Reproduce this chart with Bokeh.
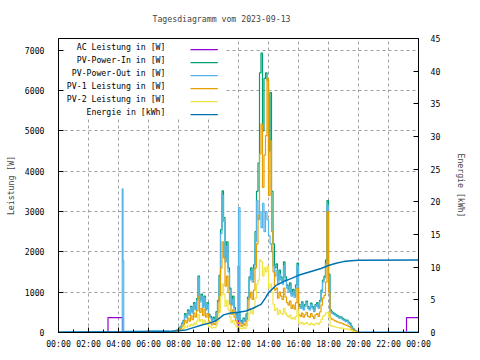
from bokeh.plotting import figure
from bokeh.models import Range1d, LinearAxis, FixedTicker, Label, BoxAnnotation
from bokeh.embed import file_html
from bokeh.resources import INLINE

FONT = "DejaVu Sans Mono"
FS = "8.2px"

title_text = "Tagesdiagramm vom 2023-09-13"
series_names = ["AC Leistung in [W]", "PV-Power-In in [W]", "PV-Power-Out in [W]",
                "PV-1 Leistung in [W]", "PV-2 Leistung in [W]", "Energie in [kWh]"]
series_colors = ["#9400d3", "#009e73", "#56b4e9", "#e69f00", "#f0e442", "#0072b2"]

x_ticks = [0, 2, 4, 6, 8, 10, 12, 14, 16, 18, 20, 22, 24]
x_minor = [1, 3, 5, 7, 9, 11, 13, 15, 17, 19, 21, 23]
x_tick_labels = ["00:00", "02:00", "04:00", "06:00", "08:00", "10:00", "12:00",
                 "14:00", "16:00", "18:00", "20:00", "22:00", "00:00"]
w_ticks = [0, 1000, 2000, 3000, 4000, 5000, 6000, 7000]
e_ticks = [0, 5, 10, 15, 20, 25, 30, 35, 40, 45]

# time of day in hours
day_t = [7.5, 7.6, 7.7, 7.8, 7.9,
         8.0, 8.1, 8.2, 8.3, 8.4, 8.5, 8.6, 8.7, 8.8, 8.9,
         9.0, 9.1, 9.2, 9.3, 9.4, 9.5, 9.6, 9.7, 9.8, 9.9,
         10.0, 10.1, 10.2, 10.3, 10.4, 10.5, 10.6, 10.7, 10.8, 10.9,
         11.0, 11.1, 11.2, 11.3, 11.4, 11.5, 11.6, 11.7, 11.8, 11.9,
         12.0, 12.1, 12.2, 12.3, 12.4, 12.5, 12.6, 12.7, 12.8, 12.9,
         13.0, 13.1, 13.2, 13.3, 13.4, 13.5, 13.6, 13.7, 13.8, 13.9,
         14.0, 14.1, 14.2, 14.3, 14.4, 14.5, 14.6, 14.7, 14.8, 14.9,
         15.0, 15.1, 15.2, 15.3, 15.4, 15.5, 15.6, 15.7, 15.8, 15.9,
         16.0, 16.1, 16.2, 16.3, 16.4, 16.5, 16.6, 16.7, 16.8, 16.9,
         17.0, 17.1, 17.2, 17.3, 17.4, 17.5, 17.6, 17.7, 17.8, 17.9,
         18.0, 18.1, 18.2, 18.3, 18.4, 18.5, 18.6, 18.7, 18.8, 18.9,
         19.0, 19.1, 19.2, 19.3, 19.4, 19.5, 19.6, 19.7, 19.8, 19.9,
         20.0]

pv_out_day = [20, 25, 35, 50, 60,
              90, 140, 210, 280, 420, 360, 520, 430, 620, 480,
              700, 560, 800, 1370, 760, 900, 620, 860, 560, 700,
              420, 360, 290, 340, 300, 480, 760, 1350, 2450, 3400,
              2750, 1750, 2150, 1500, 1050, 680, 820, 560, 420, 320,
              3100, 260, 220, 320, 270, 420, 820, 1300, 1520, 1250,
              1580, 2250, 3270, 2800, 3000, 2600, 3200, 2500, 3000, 2800,
              2400, 2200, 2000, 1650, 1400, 1550, 1200, 1450, 1300, 1200,
              1650, 1300, 1100, 1000, 1150, 900, 1000, 870, 1100, 1650,
              660, 600, 720, 560, 650, 740, 600, 560, 690, 600,
              520, 650, 700, 600, 760, 1000, 1250, 1350, 1700, 3150,
              1400, 520, 480, 450, 430, 400, 380, 350, 360, 320,
              300, 270, 280, 230, 200, 130, 90, 50, 30, 15,
              10]

pv_in_day = [25, 30, 40, 55, 70,
             100, 150, 230, 300, 470, 390, 560, 460, 650, 520,
             740, 600, 840, 1400, 800, 950, 660, 900, 600, 740,
             450, 400, 320, 380, 330, 520, 800, 1420, 2550, 3510,
             2850, 1850, 2250, 1600, 1100, 720, 900, 620, 480, 360,
             500, 300, 250, 360, 300, 460, 880, 1380, 1600, 1320,
             1680, 2500, 3500, 4200, 6440, 6930, 5000, 6300, 6440, 6260,
             4500, 5950, 3500, 2200, 1600, 1700, 1300, 1550, 1380, 1280,
             1750, 1380, 1180, 1080, 1230, 960, 1070, 930, 1180, 1720,
             700, 640, 760, 600, 690, 780, 640, 600, 730, 640,
             560, 690, 740, 640, 800, 1050, 1300, 1400, 1800, 3270,
             1450, 560, 510, 480, 460, 430, 410, 380, 390, 350,
             330, 300, 310, 260, 230, 150, 100, 60, 35, 20,
             10]

pv1_day = [12, 15, 20, 30, 35,
           55, 90, 140, 190, 300, 240, 360, 280, 420, 320,
           480, 380, 540, 900, 500, 600, 420, 580, 380, 470,
           280, 240, 190, 230, 200, 320, 500, 880, 1600, 2250,
           1850, 1150, 1400, 1000, 700, 450, 560, 380, 290, 220,
           250, 180, 150, 220, 180, 280, 550, 860, 1000, 820,
           1050, 1600, 2200, 2900, 4430, 5170, 3600, 4400, 4880, 6300,
           3400, 4750, 2500, 1500, 1050, 1100, 850, 1000, 900, 820,
           1100, 880, 740, 680, 780, 600, 680, 580, 740, 1100,
           440, 400, 480, 380, 440, 500, 400, 380, 470, 400,
           350, 440, 470, 400, 510, 680, 850, 920, 1250, 3000,
           1000, 360, 330, 310, 290, 270, 260, 240, 240, 220,
           200, 180, 185, 150, 130, 85, 60, 30, 20, 10,
           5]

pv2_day = [8, 10, 15, 20, 25,
           35, 50, 80, 100, 150, 130, 180, 160, 200, 170,
           230, 200, 280, 450, 280, 320, 220, 300, 200, 250,
           160, 140, 110, 130, 120, 180, 280, 500, 900, 1200,
           950, 650, 800, 560, 380, 250, 300, 210, 160, 120,
           150, 100, 90, 120, 100, 160, 300, 480, 560, 460,
           600, 850, 1200, 1300, 1800, 1750, 1400, 1600, 1500, 1650,
           1100, 1200, 1000, 700, 550, 600, 450, 550, 480, 450,
           600, 480, 420, 380, 430, 340, 370, 330, 400, 560,
           240, 220, 250, 200, 220, 250, 210, 190, 230, 200,
           180, 220, 230, 200, 250, 320, 400, 430, 480, 500,
           380, 170, 160, 150, 140, 130, 120, 110, 115, 100,
           95, 85, 90, 75, 65, 45, 30, 20, 10, 5,
           5]

# night parts of PV-Power-Out
pv_out_pre_t = [0.0, 4.2, 4.25, 4.3, 4.35, 6.0, 7.4]
pv_out_pre_w = [25, 25, 3560, 1780, 30, 40, 20]
pv_out_post_t = [20.1, 22.3, 24.0]
pv_out_post_w = [15, 15, 0]
pv_pre_t = [7.0]
pv_pre_w = [0]
pv_post_t = [20.1]
pv_post_w = [0]

# AC Leistung
ac_t = [0.0, 3.3, 4.28, 11.98, 12.02, 23.2, 24.0]
ac_w = [0, 370, 0, 1650, 0, 370, 370]

# Energie (kWh)
en_t = [0.0, 0.8, 4.3, 6.0, 7.5, 8.0, 8.5, 9.0, 9.5, 10.0, 10.5, 10.8, 11.0, 11.5,
        12.0, 12.5, 13.0, 13.5, 13.8, 14.0, 14.5, 15.0, 15.5, 16.0, 16.5, 17.0,
        17.5, 18.0, 18.5, 19.0, 19.5, 20.0, 24.0]
en_kwh = [0.0, 0.05, 0.1, 0.15, 0.2, 0.25, 0.4, 0.75, 1.1, 1.4, 1.8, 2.3, 2.7, 3.0,
          3.1, 3.3, 3.75, 4.3, 5.3, 6.1, 7.2, 7.8, 8.25, 8.75, 9.1, 9.45,
          9.8, 10.25, 10.6, 10.85, 11.0, 11.05, 11.1]

W_MAX = 7290
E_MAX = 45

p = figure(frame_width=360, frame_height=294,
           x_range=Range1d(0, 24), y_range=Range1d(0, W_MAX),
           output_backend="svg", toolbar_location=None,
           min_border_left=58, min_border_right=62, min_border_top=38, min_border_bottom=28)
p.extra_y_ranges = {"energy": Range1d(0, E_MAX)}
p.background_fill_color = "white"
p.border_fill_color = "white"
p.outline_line_color = "black"
p.outline_line_width = 1
p.outline_line_alpha = 1

# title
p.title.text = title_text
p.title.text_font = FONT
p.title.text_font_size = FS
p.title.text_font_style = "normal"
p.title.align = "left"
p.title.offset = 94
p.title.standoff = 26
p.title.vertical_align = "top"

# grid
p.xgrid.ticker = FixedTicker(ticks=x_ticks[1:-1])
p.ygrid.ticker = FixedTicker(ticks=w_ticks[1:])
for g in (p.xgrid, p.ygrid):
    g.grid_line_color = "#a0a0a0"
    g.grid_line_dash = "3 3"
    g.grid_line_width = 1

def style_axis(ax):
    ax.major_label_text_font = FONT
    ax.major_label_text_font_size = FS
    ax.major_label_text_color = "black"
    ax.axis_label_text_font = FONT
    ax.axis_label_text_font_size = FS
    ax.axis_label_text_font_style = "normal"
    ax.axis_line_color = "black"
    ax.major_tick_line_color = "black"
    ax.minor_tick_line_color = "black"
    ax.major_tick_out = 0
    ax.minor_tick_out = 0
    ax.major_tick_in = 5
    ax.minor_tick_in = 3

xa = p.xaxis[0]
style_axis(xa)
xa.ticker = FixedTicker(ticks=x_ticks, minor_ticks=x_minor)
xa.major_label_overrides = {t: lab for t, lab in zip(x_ticks, x_tick_labels)}
xa.major_label_standoff = 6

ya = p.yaxis[0]
style_axis(ya)
ya.ticker = FixedTicker(ticks=w_ticks)
ya.axis_label = "Leistung [W]"
ya.major_label_standoff = 14
ya.axis_label_standoff = 6

ra = LinearAxis(y_range_name="energy", ticker=FixedTicker(ticks=e_ticks))
style_axis(ra)
ra.axis_label = "Energie [kWh]"
ra.major_label_standoff = 12
ra.axis_label_standoff = 13
p.add_layout(ra, "right")

# data
p.step(ac_t, ac_w, mode="after", line_color=series_colors[0], line_width=1.2)
p.step(pv_pre_t + day_t + pv_post_t, pv_pre_w + pv_in_day + pv_post_w, mode="after",
       line_color=series_colors[1], line_width=1.2)
p.step(pv_out_pre_t + day_t + pv_out_post_t, pv_out_pre_w + pv_out_day + pv_out_post_w,
       mode="after", line_color=series_colors[2], line_width=1.2)
p.step(pv_pre_t + day_t + pv_post_t, pv_pre_w + pv1_day + pv_post_w, mode="after",
       line_color=series_colors[3], line_width=1.2)
p.step(pv_pre_t + day_t + pv_post_t, pv_pre_w + pv2_day + pv_post_w, mode="after",
       line_color=series_colors[4], line_width=1.2)
p.line(en_t, en_kwh, y_range_name="energy", line_color=series_colors[5], line_width=1.5)

# legend (gnuplot style: right-aligned text, sample line on the right)
p.add_layout(BoxAnnotation(left=0.4, right=11.05, bottom=5300, top=7260,
                           fill_color="white", fill_alpha=1, line_alpha=0))
leg_text_y = [7075, 6753, 6430, 6108, 5785, 5463]
for name, col, yy in zip(series_names, series_colors, leg_text_y):
    p.add_layout(Label(x=7.13, y=yy, text=name, text_align="right", text_baseline="middle",
                       text_font=FONT, text_font_size=FS, text_color="black"))
    p.add_layout(BoxAnnotation(left=8.8, right=10.62, bottom=yy - 75, top=yy - 45,
                               fill_color=col, fill_alpha=1, line_alpha=0))

open("out.html", "w").write(file_html(p, INLINE))
